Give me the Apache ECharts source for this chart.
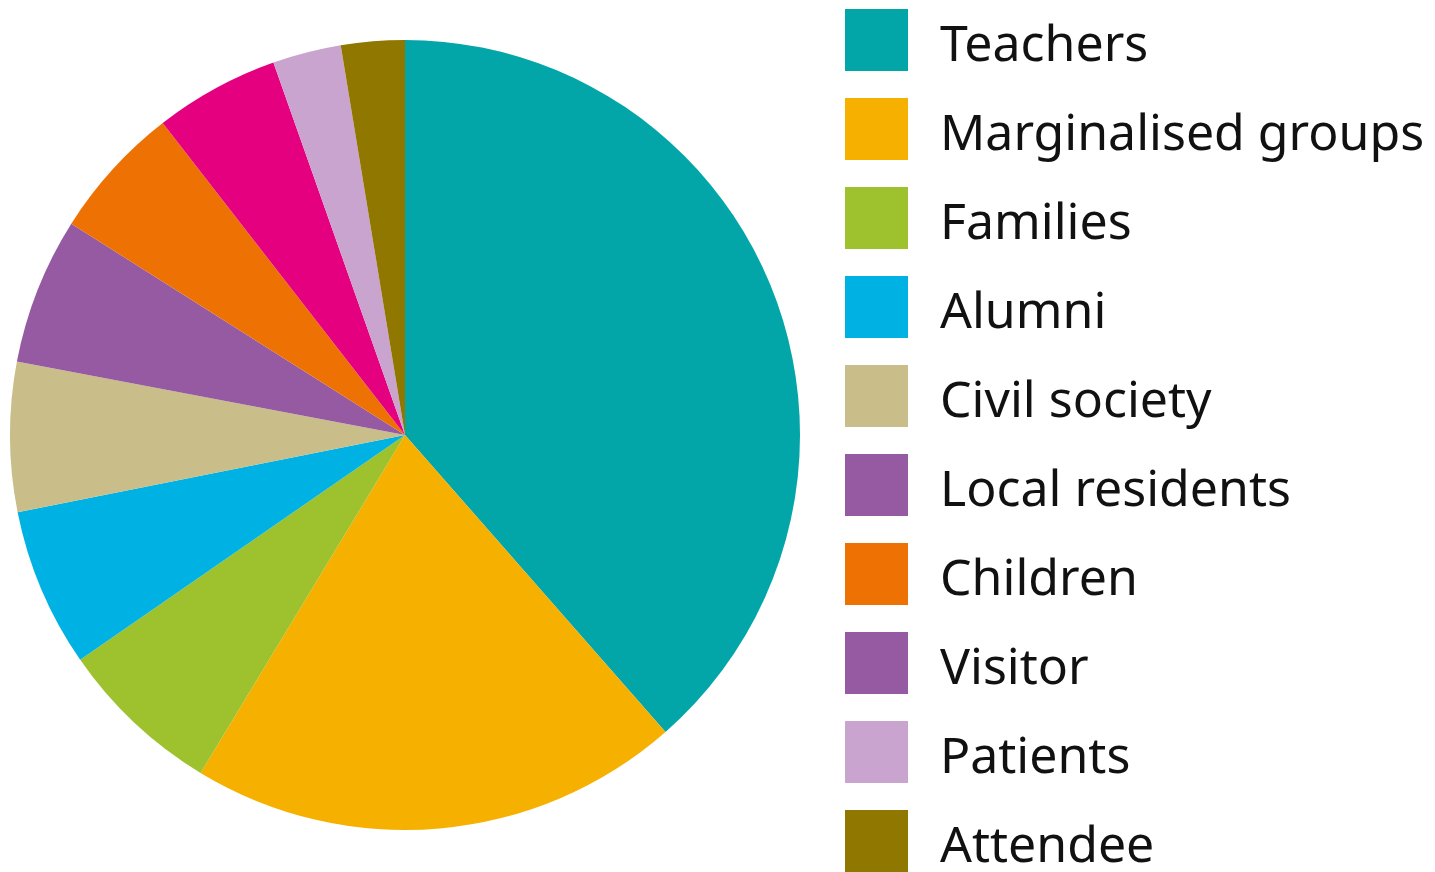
<!DOCTYPE html>
<html>
<head>
<meta charset="utf-8">
<script src="https://cdn.jsdelivr.net/npm/echarts@6/dist/echarts.min.js"></script>
<style>
  html, body { margin: 0; padding: 0; background: #ffffff; }
  #chart { width: 1435px; height: 872px; }
</style>
</head>
<body>
<div id="chart"></div>
<script>
// Audience groups and their shares (%)
const categories = [
  'Teachers', 'Marginalised groups', 'Families', 'Alumni', 'Civil society',
  'Local residents', 'Children', 'Visitor', 'Patients', 'Attendee'
];
const shares = [38.5, 20.1, 6.7, 6.5, 6.1, 6.0, 5.5, 5.1, 2.8, 2.6];

// Slice colours, and the swatch colours shown in the key
const sliceColors = [
  '#02a6a9', '#f6b000', '#9dc22d', '#00b2e3', '#c9bd89',
  '#955aa2', '#ee7203', '#e4007e', '#c9a4cf', '#8f7700'
];
const keyColors = [
  '#02a6a9', '#f6b000', '#9dc22d', '#00b2e3', '#c9bd89',
  '#955aa2', '#ee7203', '#955aa2', '#c9a4cf', '#8f7700'
];

const chart = echarts.init(document.getElementById('chart'), null, { renderer: 'canvas' });

chart.setOption({
  animation: false,
  backgroundColor: '#ffffff',
  legend: {
    orient: 'vertical',
    left: 845,
    top: 9,
    height: 2000,
    padding: 0,
    itemWidth: 63,
    itemHeight: 62,
    itemGap: 26,
    icon: 'rect',
    selectedMode: false,
    formatter: '{t|{name}}',
    textStyle: {
      fontFamily: 'Noto Sans',
      fontSize: 50,
      color: '#111111',
      padding: [0, 0, 0, 27],
      rich: {
        t: {
          fontFamily: 'Noto Sans',
          fontSize: 50,
          color: '#111111',
          padding: [14, 0, 0, 0]
        }
      }
    },
    data: categories.map((name, i) => ({
      name: name,
      itemStyle: { color: keyColors[i] }
    }))
  },
  series: [{
    type: 'pie',
    center: [405, 435],
    radius: [0, 395],
    startAngle: 90,
    clockwise: true,
    label: { show: false },
    labelLine: { show: false },
    emphasis: { disabled: true },
    itemStyle: { borderWidth: 0 },
    data: categories.map((name, i) => ({
      name: name,
      value: shares[i],
      itemStyle: { color: sliceColors[i] }
    }))
  }]
});
</script>
</body>
</html>
